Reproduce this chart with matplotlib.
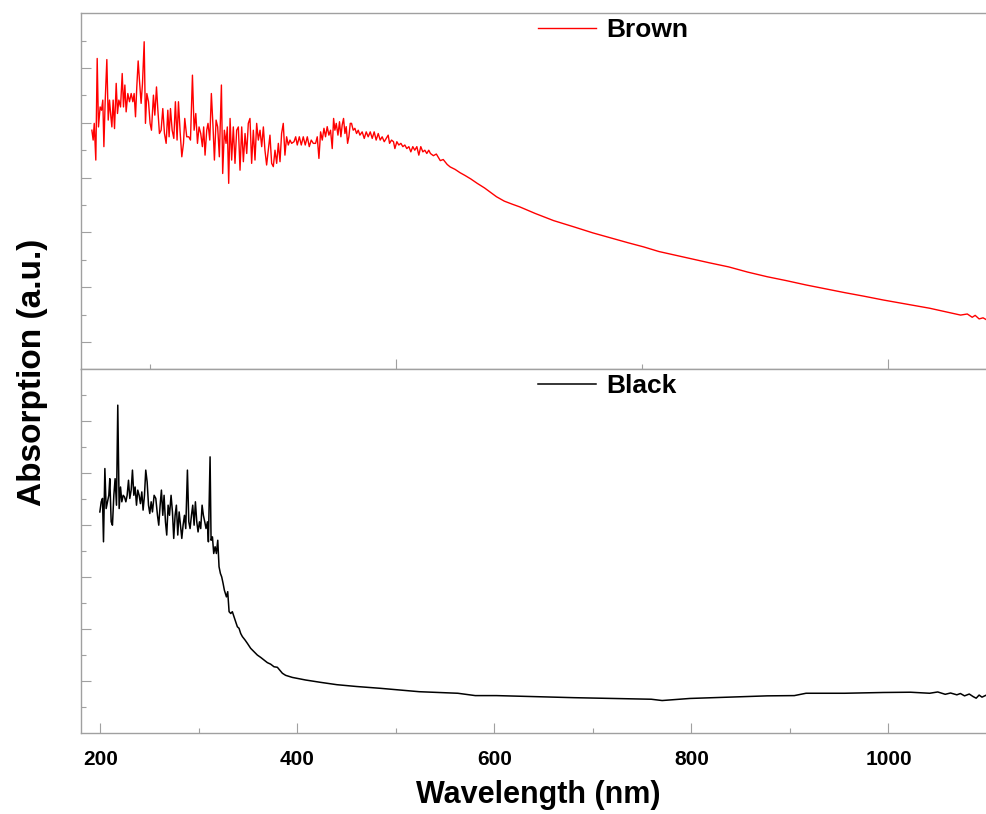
import matplotlib.pyplot as plt
from matplotlib.ticker import FixedLocator, NullFormatter

plt.rcParams['font.family'] = ['Liberation Sans', 'DejaVu Sans']
plt.rcParams['font.weight'] = 'bold'

# Brown sample (a.u. = y tick steps)
brown_nm = [191.3, 192.6, 193.7, 195.3, 196.7, 198.0, 199.7, 201.1, 202.4, 203.5,
            204.8, 206.5, 207.9, 209.2, 210.6, 211.6, 212.9, 214.3, 216.0, 217.3,
            218.7, 220.4, 222.1, 223.4, 224.8, 226.1, 227.8, 229.5, 231.2, 232.9,
            234.2, 235.6, 236.9, 238.3, 239.6, 241.3, 242.7, 244.4, 245.7, 247.1,
            248.8, 250.4, 251.8, 253.8, 255.2, 256.9, 258.2, 259.9, 261.6, 263.3,
            265.0, 266.7, 268.4, 269.7, 271.1, 272.8, 274.5, 276.1, 277.8, 279.2,
            280.9, 282.6, 284.3, 285.6, 287.6, 289.7, 291.4, 293.4, 295.1, 296.8,
            298.5, 300.1, 301.8, 303.5, 304.8, 306.2, 307.9, 309.2, 311.0, 312.6,
            314.3, 315.7, 317.4, 319.0, 320.7, 322.8, 324.1, 325.8, 327.5, 328.8,
            330.2, 331.6, 333.2, 334.9, 336.6, 338.3, 340.0, 341.7, 343.4, 345.1,
            346.8, 348.5, 350.1, 351.8, 353.5, 355.2, 356.9, 358.6, 360.3, 362.0,
            363.7, 365.4, 367.0, 368.7, 370.4, 372.1, 373.8, 375.5, 377.2, 378.9,
            380.6, 382.3, 383.9, 385.6, 387.3, 389.0, 390.7, 392.4, 394.1, 396.5,
            398.2, 399.8, 401.9, 403.9, 405.9, 407.9, 410.0, 412.0, 414.0, 416.1,
            418.4, 420.1, 421.8, 423.5, 425.2, 426.9, 428.5, 430.2, 431.9, 433.6,
            435.3, 436.7, 438.0, 439.4, 441.1, 442.7, 444.1, 445.4, 446.8, 448.2,
            449.5, 450.9, 452.2, 453.6, 454.9, 456.6, 458.3, 460.0, 461.7, 463.4,
            465.7, 467.8, 469.8, 471.8, 473.9, 475.9, 477.9, 479.9, 482.0, 484.0,
            486.0, 488.1, 490.1, 492.1, 493.5, 495.5, 497.5, 498.9, 500.9, 502.9,
            505.0, 507.0, 509.0, 511.0, 513.1, 515.1, 517.1, 519.1, 521.2, 523.2,
            525.2, 527.3, 529.3, 531.3, 533.3, 535.0, 538.0, 541.0, 545.0, 548.0,
            552.0, 555.0, 560.0, 565.0, 570.0, 576.0, 582.5, 590.0, 596.0, 602.1,
            610.0, 618.0, 625.7, 633.0, 641.4, 660.0, 680.7, 700.0, 719.9, 735.7,
            751.4, 767.0, 782.0, 798.4, 818.0, 837.7, 857.0, 876.9, 896.0, 916.3,
            936.0, 955.5, 975.0, 994.8, 1018.0, 1041.8, 1058.0, 1073.2, 1080.0, 1085.0,
            1088.0, 1092.0, 1096.0, 1099.9]
brown_abs = [8.73, 8.37, 8.98, 7.64, 11.35, 8.85, 9.58, 9.46, 9.83, 8.13,
             9.77, 11.31, 9.10, 9.83, 9.22, 8.85, 9.83, 8.79, 10.44, 9.34,
             9.83, 9.58, 10.80, 9.58, 10.38, 9.40, 10.07, 9.77, 10.07, 9.77,
             10.07, 9.22, 10.31, 11.26, 10.56, 9.71, 10.44, 11.96, 8.98, 10.07,
             9.77, 8.98, 8.73, 10.01, 9.28, 10.31, 9.52, 8.61, 8.73, 9.52,
             8.61, 8.25, 9.46, 8.49, 9.52, 8.73, 8.43, 9.77, 8.37, 9.77,
             8.67, 7.76, 8.25, 9.16, 8.49, 8.49, 8.37, 10.74, 8.73, 9.34,
             8.25, 8.85, 8.61, 8.13, 8.85, 7.82, 8.73, 8.98, 8.37, 10.07,
             8.85, 7.64, 9.10, 8.85, 7.76, 10.38, 7.15, 8.73, 8.25, 8.85,
             6.79, 9.16, 7.64, 8.85, 7.52, 8.73, 8.85, 7.27, 8.85, 7.58,
             8.61, 7.88, 8.98, 9.16, 7.52, 8.73, 7.64, 8.98, 8.37, 8.73,
             8.13, 8.85, 8.00, 7.46, 8.00, 8.55, 7.52, 7.40, 8.00, 7.52,
             8.25, 7.58, 8.61, 8.98, 7.82, 8.49, 8.19, 8.37, 8.25, 8.31,
             8.49, 8.19, 8.49, 8.19, 8.49, 8.19, 8.49, 8.13, 8.37, 8.25,
             8.25, 8.49, 7.70, 8.67, 8.37, 8.80, 8.49, 8.86, 8.55, 8.73,
             8.06, 9.16, 8.73, 8.98, 8.55, 9.04, 8.49, 8.92, 9.16, 8.61,
             8.86, 8.25, 8.49, 8.98, 8.98, 8.73, 8.80, 8.61, 8.73, 8.55,
             8.67, 8.43, 8.67, 8.49, 8.67, 8.43, 8.67, 8.37, 8.61, 8.37,
             8.49, 8.31, 8.43, 8.55, 8.25, 8.37, 8.31, 8.06, 8.31, 8.19,
             8.25, 8.13, 8.19, 8.06, 8.13, 7.94, 8.13, 8.00, 8.13, 7.82,
             8.13, 7.94, 8.00, 7.88, 8.00, 7.88, 7.80, 7.86, 7.62, 7.66,
             7.48, 7.39, 7.30, 7.18, 7.08, 6.95, 6.79, 6.62, 6.46, 6.30,
             6.14, 6.03, 5.93, 5.82, 5.69, 5.43, 5.20, 4.98, 4.78, 4.62,
             4.47, 4.30, 4.18, 4.05, 3.89, 3.74, 3.55, 3.38, 3.24, 3.08,
             2.94, 2.80, 2.67, 2.53, 2.38, 2.23, 2.10, 1.98, 2.02, 1.90,
             1.97, 1.84, 1.88, 1.80]

# Black sample
black_nm = [199.4, 200.8, 202.1, 203.1, 204.5, 205.8, 207.2, 208.5, 209.5, 210.9,
            212.2, 213.6, 214.9, 216.3, 217.6, 219.0, 220.4, 221.7, 223.1, 224.4,
            225.8, 227.1, 228.5, 229.8, 231.2, 232.5, 233.9, 235.2, 236.6, 237.9,
            239.3, 240.6, 242.0, 243.3, 244.7, 246.0, 247.4, 248.8, 250.1, 251.5,
            252.8, 254.5, 256.2, 257.9, 259.2, 260.6, 261.9, 263.3, 264.6, 266.0,
            267.3, 268.7, 270.1, 271.7, 273.1, 274.4, 275.8, 277.1, 278.5, 279.9,
            281.2, 282.6, 283.9, 285.3, 286.6, 288.3, 289.7, 291.0, 292.4, 293.7,
            295.1, 296.4, 297.8, 299.1, 300.5, 301.8, 303.2, 304.5, 305.9, 307.2,
            308.6, 309.6, 311.3, 312.3, 313.7, 315.0, 316.4, 317.7, 319.1, 320.4,
            321.8, 323.1, 324.5, 325.8, 327.9, 329.2, 330.6, 332.3, 333.9, 335.6,
            337.3, 339.0, 340.7, 342.4, 344.1, 346.8, 349.2, 352.5, 355.9, 359.3,
            362.7, 366.1, 369.4, 372.8, 376.2, 379.6, 382.0, 384.7, 388.0, 394.8,
            401.6, 408.3, 415.1, 423.5, 440.0, 460.0, 484.3, 523.6, 562.8, 580.5,
            602.1, 641.4, 680.7, 719.9, 759.2, 770.2, 798.4, 837.7, 876.9, 904.4,
            916.3, 955.5, 994.8, 1022.3, 1041.8, 1050.0, 1057.6, 1063.0, 1069.4, 1073.0,
            1077.2, 1082.0, 1086.0, 1089.0, 1092.0, 1094.9, 1099.9]
black_abs = [8.51, 8.90, 9.03, 7.36, 10.18, 8.64, 8.90, 9.15, 9.79, 8.13,
             8.00, 9.15, 9.79, 8.77, 12.62, 8.64, 9.47, 8.90, 9.15, 9.09,
             8.90, 9.15, 9.73, 9.03, 9.35, 10.12, 9.15, 9.47, 8.77, 9.35,
             9.15, 8.83, 9.28, 8.58, 9.15, 10.12, 9.67, 8.77, 8.45, 8.90,
             8.51, 9.15, 9.03, 8.38, 8.00, 8.77, 9.35, 8.38, 9.15, 8.13,
             7.62, 8.77, 8.38, 9.15, 8.51, 7.49, 8.38, 8.77, 7.62, 8.51,
             8.00, 7.49, 8.00, 8.38, 7.87, 10.12, 8.13, 7.87, 8.38, 8.77,
             8.00, 8.90, 8.13, 7.74, 8.13, 7.87, 8.77, 8.38, 8.13, 7.87,
             8.13, 7.36, 10.63, 7.42, 7.55, 6.91, 7.17, 6.91, 7.42, 6.40,
             6.14, 6.01, 5.76, 5.50, 5.24, 5.44, 4.67, 4.60, 4.67, 4.47,
             4.28, 4.09, 4.03, 3.83, 3.71, 3.58, 3.45, 3.26, 3.13, 3.00,
             2.91, 2.81, 2.71, 2.65, 2.55, 2.53, 2.42, 2.30, 2.22, 2.14,
             2.09, 2.04, 2.00, 1.95, 1.86, 1.79, 1.72, 1.59, 1.53, 1.44,
             1.44, 1.40, 1.36, 1.33, 1.30, 1.25, 1.33, 1.38, 1.43, 1.44,
             1.53, 1.53, 1.56, 1.57, 1.53, 1.58, 1.49, 1.54, 1.47, 1.52,
             1.43, 1.50, 1.40, 1.34, 1.46, 1.38, 1.47]

spine_grey = '#a0a0a0'

fig = plt.figure(figsize=(9.87, 8.14), dpi=100)
ax_top = fig.add_axes([0.0818, 0.5463, 0.9182, 0.4374])
ax_bot = fig.add_axes([0.0818, 0.0995, 0.9182, 0.4468])

ax_top.plot(brown_nm, brown_abs, color='#ff0000', lw=1.0, label='Brown')
ax_bot.plot(black_nm, black_abs, color='black', lw=1.1, label='Black')

for ax in (ax_top, ax_bot):
    ax.set_xlim(180, 1100)
    for side in ('left', 'bottom', 'top'):
        ax.spines[side].set_color(spine_grey)
        ax.spines[side].set_linewidth(1.0)
    ax.spines['right'].set_visible(False)
    ax.tick_params(which='both', direction='in', color=spine_grey, width=0.8,
                   labelcolor='black', labelsize=15, pad=12)
    ax.tick_params(which='major', length=7.5)
    ax.tick_params(which='minor', length=3.8)
    ax.yaxis.set_major_formatter(NullFormatter())
    ax.legend(loc='center left', frameon=False, borderpad=0, borderaxespad=0,
              handlelength=2.2, handletextpad=0.4,
              bbox_to_anchor=(0.5046, 0.953), prop={'size': 19, 'weight': 'bold'})

# upper panel
ax_top.set_ylim(0, 13)
ax_top.xaxis.set_major_locator(FixedLocator([500, 1000]))
ax_top.xaxis.set_minor_locator(FixedLocator([250, 750]))
ax_top.xaxis.set_major_formatter(NullFormatter())
ax_top.yaxis.set_major_locator(FixedLocator([1, 3, 5, 7, 9, 11]))
ax_top.yaxis.set_minor_locator(FixedLocator([2, 4, 6, 8, 10, 12]))

# lower panel
ax_bot.set_ylim(0, 14)
ax_bot.xaxis.set_major_locator(FixedLocator([200, 400, 600, 800, 1000]))
ax_bot.xaxis.set_minor_locator(FixedLocator([300, 500, 700, 900]))
ax_bot.yaxis.set_major_locator(FixedLocator([2, 4, 6, 8, 10, 12]))
ax_bot.yaxis.set_minor_locator(FixedLocator([1, 3, 5, 7, 9, 11, 13]))

fig.text(0.545, 0.0235, 'Wavelength (nm)', ha='center', va='center',
         fontsize=22, fontweight='bold')
fig.text(0.033, 0.543, 'Absorption (a.u.)', ha='center', va='center',
         rotation=90, fontsize=24, fontweight='bold')

fig.savefig('out.png', dpi=100)
